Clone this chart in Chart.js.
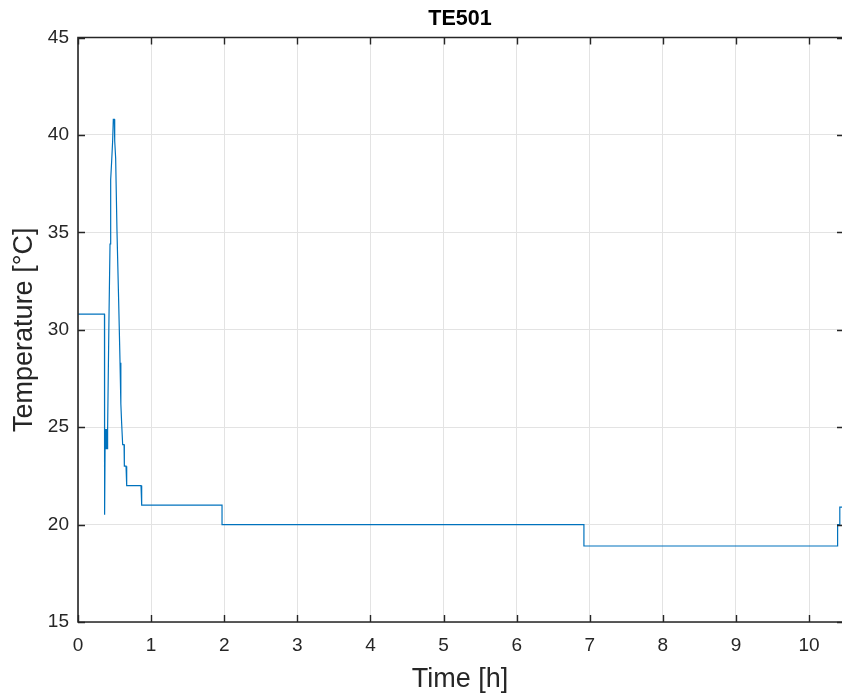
<!DOCTYPE html>
<html>
<head>
<meta charset="utf-8">
<script src="https://cdn.jsdelivr.net/npm/chart.js@4/dist/chart.umd.min.js"></script>
<style>
  html, body { margin: 0; padding: 0; background: #fff; overflow: hidden; }
  #wrap { width: 842px; height: 698px; }
</style>
</head>
<body>
<div id="wrap"><canvas id="chart" width="842" height="698"></canvas></div>
<script>
// TE501 readings, time in hours, temperature in °C (vertices)
const timeH = [0, 0.362, 0.364, 0.372, 0.376, 0.380, 0.384, 0.388, 0.392, 0.396, 0.400, 0.404, 0.406,
    0.424, 0.438, 0.447, 0.461, 0.474, 0.483, 0.497, 0.502, 0.515, 0.533, 0.556, 0.575, 0.584,
    0.588, 0.597, 0.611, 0.630, 0.634, 0.657, 0.666, 0.862, 0.871, 1.97, 1.97, 6.92, 6.92,
    10.39, 10.39, 10.42, 10.42, 10.45];
const tempC = [30.8, 30.8, 20.5, 24.9, 23.9, 24.9, 23.9, 24.9, 23.9, 24.9, 23.9, 24.9, 24.9,
    30.7, 34.4, 37.7, 38.7, 39.7, 40.8, 40.8, 39.7, 38.8, 35.1, 31.5, 28.3, 27.3,
    26.2, 25.2, 24.1, 24.1, 23.0, 23.0, 22.0, 22.0, 21.0, 21.0, 20.0, 20.0, 18.9,
    18.9, 20.0, 20.0, 20.9, 20.9];

const xTicks = [0, 1, 2, 3, 4, 5, 6, 7, 8, 9, 10];
const yTicks = [15, 20, 25, 30, 35, 40, 45];
const xMin = 0, xMax = 10.45;
const yMin = 15, yMax = 45;

const axisColor = '#262626';
const gridColor = '#e3e3e3';
const tickFont = { family: 'Liberation Sans, Arial, sans-serif', size: 19 };

// MATLAB-style box with inward ticks; the right axis line falls just off the canvas
const boxPlugin = {
    id: 'box',
    afterDraw(chart) {
        const { ctx, chartArea: a, scales: { x, y } } = chart;
        const len = 7;
        ctx.save();
        ctx.strokeStyle = axisColor;
        ctx.lineWidth = 1.4;
        ctx.beginPath();
        x.ticks.forEach(t => {
            const px = Math.round(x.getPixelForValue(t.value)) + 0.5;
            ctx.moveTo(px, a.bottom); ctx.lineTo(px, a.bottom - len);
            ctx.moveTo(px, a.top); ctx.lineTo(px, a.top + len);
        });
        y.ticks.forEach(t => {
            const py = Math.round(y.getPixelForValue(t.value)) + 0.5;
            ctx.moveTo(a.left, py); ctx.lineTo(a.left + len, py);
            ctx.moveTo(a.right, py); ctx.lineTo(a.right - 5, py);
        });
        ctx.stroke();
        ctx.lineWidth = 1.6;
        ctx.beginPath();
        ctx.moveTo(a.right + 2, a.top);
        ctx.lineTo(a.left, a.top);
        ctx.lineTo(a.left, a.bottom);
        ctx.lineTo(a.right + 2, a.bottom);
        ctx.stroke();
        ctx.restore();
    }
};

const points = timeH.map((t, i) => ({ x: t, y: tempC[i] }));

new Chart(document.getElementById('chart').getContext('2d'), {
    type: 'line',
    data: {
        datasets: [{
            label: 'TE501',
            data: points,
            borderColor: '#0072BD',
            borderWidth: 1.2,
            pointRadius: 0,
            tension: 0,
            fill: false
        }]
    },
    options: {
        responsive: false,
        animation: false,
        devicePixelRatio: 1,
        layout: { padding: 0 },
        plugins: {
            legend: { display: false },
            tooltip: { enabled: false },
            title: {
                display: true,
                text: 'TE501',
                fullSize: false,
                color: '#000',
                font: { family: 'Liberation Sans, Arial, sans-serif', size: 21.5, weight: 'bold', lineHeight: 1.2 },
                padding: { top: 6, bottom: 5.7 }
            }
        },
        scales: {
            x: {
                type: 'linear',
                min: xMin,
                max: xMax,
                afterFit(s) { s.height = 76; },
                afterBuildTicks(s) { s.ticks = xTicks.map(v => ({ value: v })); },
                ticks: { color: axisColor, font: tickFont, padding: 12, maxRotation: 0, autoSkip: false },
                grid: { color: gridColor, drawTicks: false },
                border: { display: false },
                title: {
                    display: true,
                    text: 'Time [h]',
                    color: axisColor,
                    font: { family: 'Liberation Sans, Arial, sans-serif', size: 27, lineHeight: 1.2 },
                    padding: { top: 0, bottom: 2 }
                }
            },
            y: {
                min: yMin,
                max: yMax,
                afterFit(s) { s.width = 78; },
                afterBuildTicks(s) { s.ticks = yTicks.map(v => ({ value: v })); },
                ticks: { color: axisColor, font: tickFont, padding: 9, autoSkip: false },
                grid: { color: gridColor, drawTicks: false },
                border: { display: false },
                title: {
                    display: true,
                    text: 'Temperature [°C]',
                    color: axisColor,
                    font: { family: 'Liberation Sans, Arial, sans-serif', size: 27, lineHeight: 1.2 },
                    padding: { top: 8, bottom: 0 }
                }
            }
        }
    },
    plugins: [boxPlugin]
});
</script>
</body>
</html>
